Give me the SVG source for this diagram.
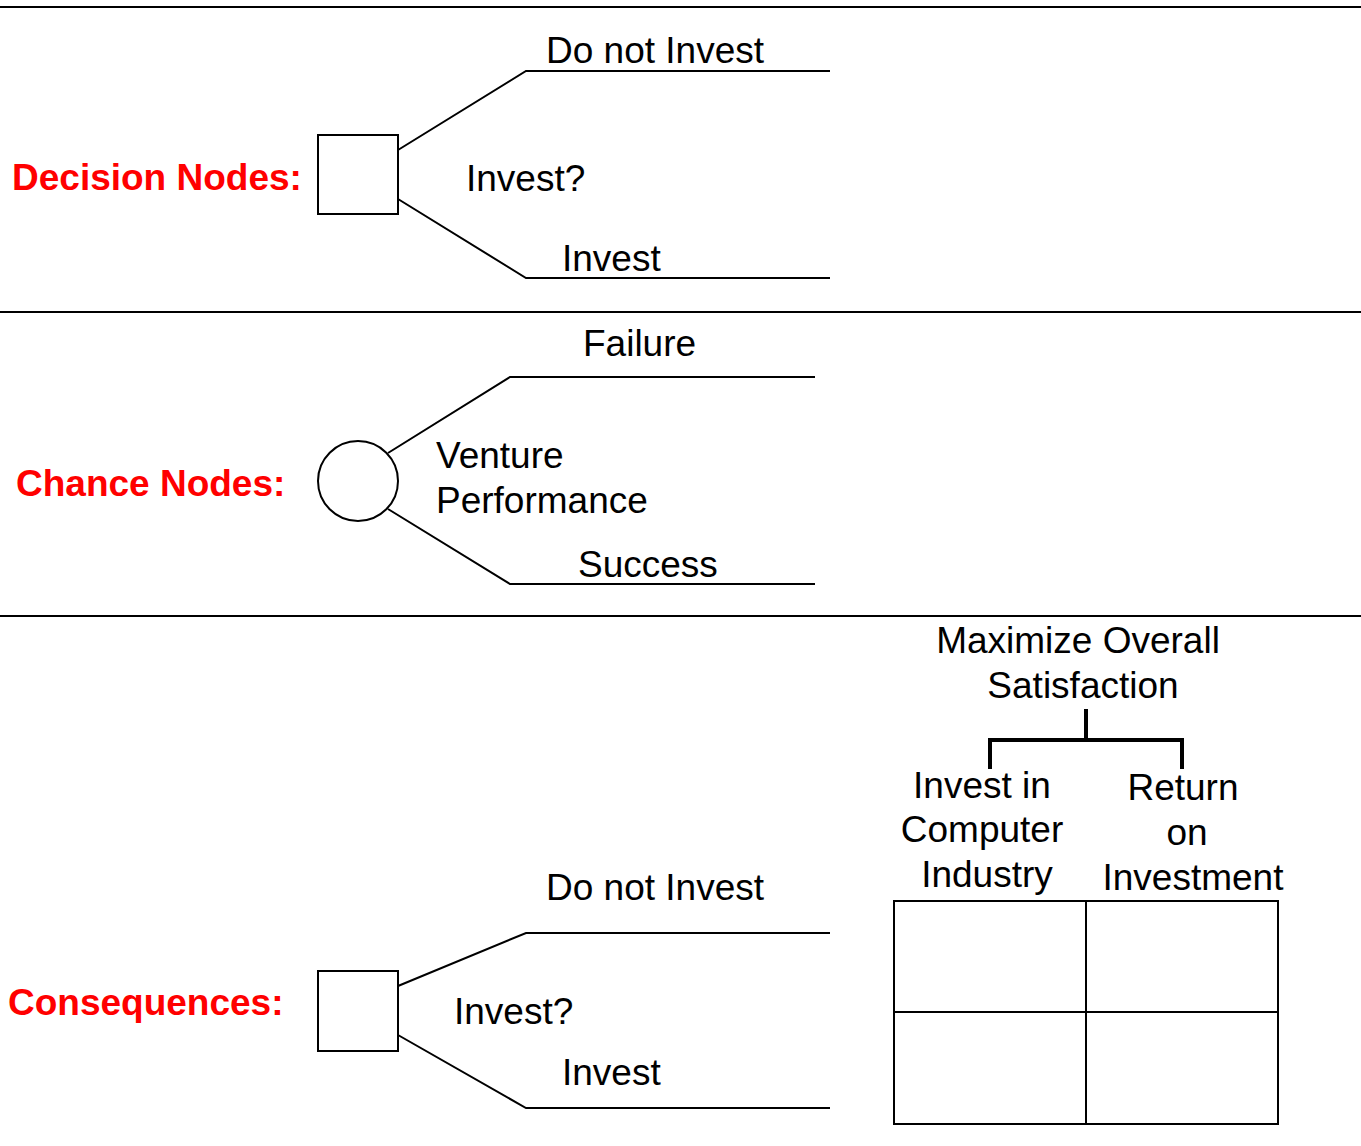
<svg xmlns="http://www.w3.org/2000/svg" width="1361" height="1146" viewBox="0 0 1361 1146">
<style>
.t{font-family:"Liberation Sans",Arial,sans-serif;font-size:37px;fill:#000}
.r{font-family:"Liberation Sans",Arial,sans-serif;font-size:37px;font-weight:bold;fill:#ff0000}
.ln{stroke:#000;stroke-width:2;fill:none}
.nd{stroke:#000;stroke-width:2;fill:#fff}
.br{stroke:#000;stroke-width:4;fill:none}
</style>
<rect width="1361" height="1146" fill="#fff"/>
<g id="dividers">
<line class="ln" x1="0" y1="7" x2="1361" y2="7"/>
<line class="ln" x1="0" y1="312" x2="1361" y2="312"/>
<line class="ln" x1="0" y1="616" x2="1361" y2="616"/>
</g>
<g id="connectors">
<polyline class="ln" points="398,150 526,71 830,71"/>
<polyline class="ln" points="398,199 526,278 830,278"/>
<polyline class="ln" points="388,453 510,377 815,377"/>
<polyline class="ln" points="388,509 510,584 815,584"/>
<polyline class="ln" points="398,986 526,933 830,933"/>
<polyline class="ln" points="398,1035 526,1108 830,1108"/>
<path class="br" d="M1086,709 V740 M990,769 V740 H1182 V769"/>
</g>
<g id="decision">
<text class="r" x="12" y="190">Decision Nodes:</text>
<rect class="nd" x="318" y="135" width="80" height="79"/>
<text class="t" x="466" y="191">Invest?</text>
<text class="t" x="546" y="63">Do not Invest</text>
<text class="t" x="562" y="271">Invest</text>
</g>
<g id="chance">
<text class="r" x="16" y="496">Chance Nodes:</text>
<circle class="nd" cx="358" cy="481" r="40"/>
<text class="t" x="436" y="468">Venture</text>
<text class="t" x="436" y="513">Performance</text>
<text class="t" x="583" y="356">Failure</text>
<text class="t" x="578" y="577">Success</text>
</g>
<g id="consequences">
<text class="r" x="8" y="1015">Consequences:</text>
<rect class="nd" x="318" y="971" width="80" height="80"/>
<text class="t" x="454" y="1024">Invest?</text>
<text class="t" x="546" y="900">Do not Invest</text>
<text class="t" x="562" y="1085">Invest</text>
</g>
<g id="objective">
<text class="t" x="1078" y="653" text-anchor="middle">Maximize Overall</text>
<text class="t" x="1083" y="698" text-anchor="middle">Satisfaction</text>
</g>
<g id="attr1">
<text class="t" x="982" y="798" text-anchor="middle">Invest in</text>
<text class="t" x="982" y="842" text-anchor="middle">Computer</text>
<text class="t" x="987" y="887" text-anchor="middle">Industry</text>
</g>
<g id="attr2">
<text class="t" x="1183" y="800" text-anchor="middle">Return</text>
<text class="t" x="1187" y="845" text-anchor="middle">on</text>
<text class="t" x="1193" y="890" text-anchor="middle">Investment</text>
</g>
<g id="table">
<rect class="ln" x="894" y="901" width="384" height="223"/>
<line class="ln" x1="1086" y1="901" x2="1086" y2="1124"/>
<line class="ln" x1="894" y1="1012" x2="1278" y2="1012"/>
</g>
</svg>
